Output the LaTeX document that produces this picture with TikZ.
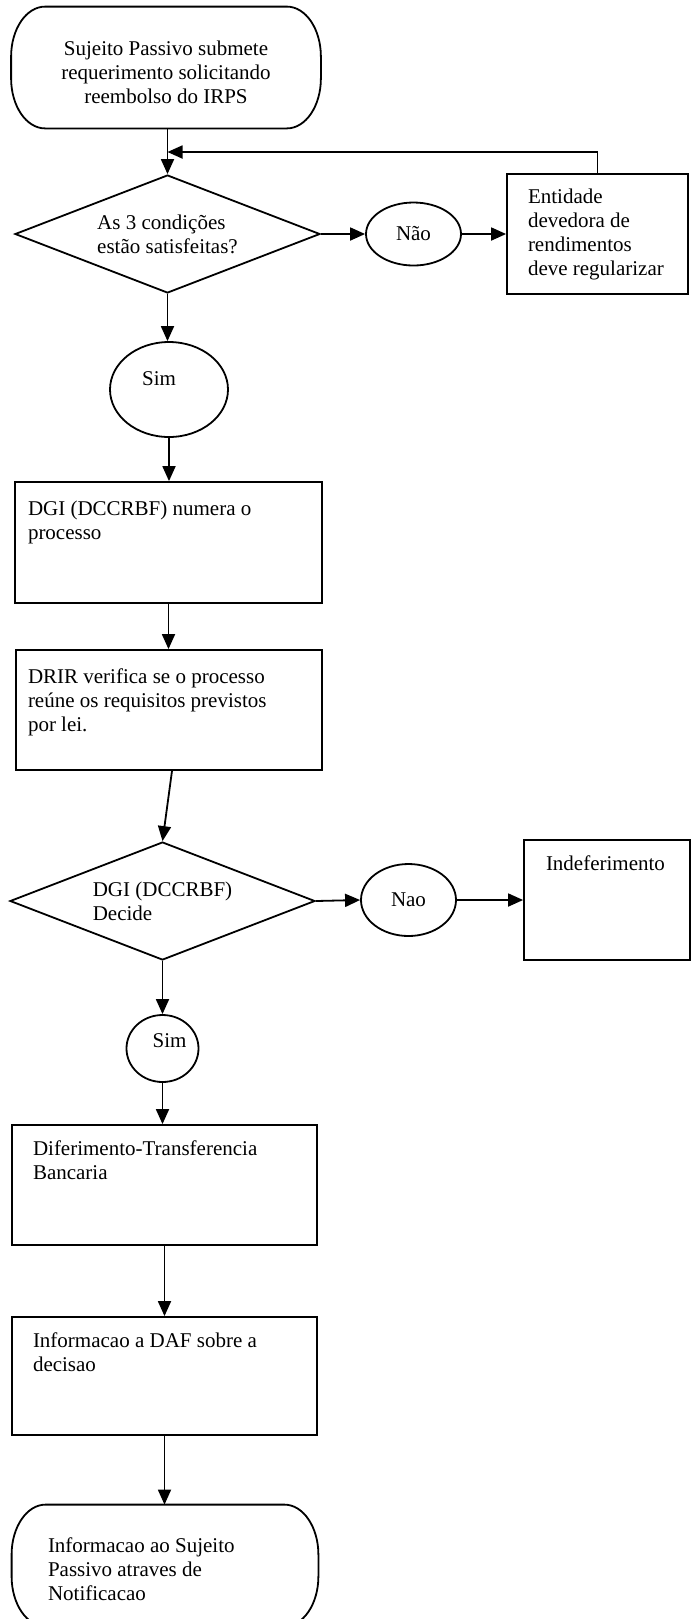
\documentclass[tikz,border=0pt]{standalone}
\usepackage{fontspec}
\setmainfont{Liberation Serif}
\usetikzlibrary{shapes.geometric,arrows.meta}
\newcommand{\bx}[5]{\parbox[c][#1][t]{#2}{\raggedright\leftskip=#4\relax\vspace*{#3}\strut#5}}
\newcommand{\cbx}[4]{\parbox[c][#1][t]{#2}{\centering\vspace*{#3}\strut#4}}
\tikzset{
  every node/.style={font=\fontsize{10.5}{12}\selectfont},
  boxnode/.style={draw, rectangle, inner sep=0pt, line width=0.9pt},
  decnode/.style={draw, diamond, aspect=2.58, inner sep=0pt, minimum width=152.5pt, minimum height=59pt, align=left, line width=0.9pt},
  ovalnode/.style={draw, ellipse, inner sep=0pt, line width=0.9pt},
  termnode/.style={draw=none, inner sep=0pt},
  outline/.style={line width=0.9pt},
  arr/.style={-{Triangle[length=7.5pt,width=6.5pt]}, line width=0.9pt},
}
\begin{document}
\begin{tikzpicture}[x=0.5pt,y=-0.5pt]
\fill[white] (0,0) rectangle (692,1619);
\useasboundingbox (0,0) rectangle (692,1619);

% nodes
\node[termnode] (t1) at (166,67.5) {\cbx{60.5pt}{154.5pt}{15.6pt}{Sujeito Passivo submete\\requerimento solicitando\\reembolso do IRPS}};
\node[decnode] (d1) at (167.5,234) {As 3 condições\\estão satisfeitas?};
\node[ovalnode, minimum width=47.5pt, minimum height=31.5pt] (nao1) at (413.5,234) {Não};
\node[boxnode] (ent) at (597.5,234) {\bx{60pt}{90.5pt}{6.1pt}{10.5pt}{Entidade\\devedora de\\rendimentos\\deve regularizar}};
\node[ovalnode, minimum width=59pt, minimum height=47.5pt, label={[xshift=-5pt,yshift=5.5pt]center:Sim}] (sim1) at (169,389.5) {};
\node[boxnode] (dgi) at (168.5,542.5) {\bx{60.5pt}{153.5pt}{8.1pt}{6.5pt}{DGI (DCCRBF) numera o\\processo}};
\node[boxnode] (drir) at (169,710) {\bx{60pt}{153pt}{8.1pt}{6pt}{DRIR verifica se o processo\\reúne os requisitos previstos\\por lei.}};
\node[decnode] (d2) at (162.5,901) {DGI (DCCRBF)\\Decide};
\node[ovalnode, minimum width=47.5pt, minimum height=36pt] (nao2) at (408.5,900) {Nao};
\node[boxnode] (indef) at (607,900) {\bx{60pt}{83pt}{6.6pt}{11pt}{Indeferimento}};
\node[ovalnode, minimum width=36pt, minimum height=33.5pt, label={[xshift=3.5pt,yshift=4pt]center:Sim}] (sim2) at (162.5,1048.5) {};
\node[boxnode] (dif) at (164.5,1185) {\bx{60pt}{152.5pt}{6.6pt}{10.5pt}{Diferimento-Transferencia\\Bancaria}};
\node[boxnode] (inf) at (164.5,1376) {\bx{59pt}{152.5pt}{6.6pt}{10.5pt}{Informacao a DAF sobre a\\decisao}};
\node[termnode] (t2) at (165,1565.5) {\bx{60.5pt}{153pt}{15.1pt}{18pt}{Informacao ao Sujeito\\Passivo atraves de\\Notificacao}};

% terminator outlines
\foreach \t in {t1,t2}{
\draw[outline] ([xshift=17pt]\t.north west) -- ([xshift=-17pt]\t.north east)
  arc[start angle=90, end angle=0, x radius=17pt, y radius=25pt]
  -- ([yshift=25pt]\t.south east)
  arc[start angle=0, end angle=-90, x radius=17pt, y radius=25pt]
  -- ([xshift=17pt]\t.south west)
  arc[start angle=270, end angle=180, x radius=17pt, y radius=25pt]
  -- ([yshift=-25pt]\t.north west)
  arc[start angle=180, end angle=90, x radius=17pt, y radius=25pt] -- cycle;
}

% connectors
\coordinate (fb) at (167.5,152);
\draw[arr] (d1.north |- t1.south) -- (d1.north);
\draw[arr] (ent.north) |- (fb);
\draw[arr] (d1.east) -- (nao1.west);
\draw[arr] (nao1.east) -- (ent.west);
\draw[arr] (d1.south) -- (d1.south |- sim1.north);
\draw[arr] (sim1.south) -- (sim1.south |- dgi.north);
\draw[arr] (dgi.south) -- (dgi.south |- drir.north);
\draw[arr] ([xshift=1.5pt]drir.south) -- (d2.north);
\draw[arr] (d2.east) -- (nao2.west);
\draw[arr] (nao2.east) -- (indef.west);
\draw[arr] (d2.south) -- (d2.south |- sim2.north);
\draw[arr] (sim2.south) -- (sim2.south |- dif.north);
\draw[arr] (dif.south) -- (dif.south |- inf.north);
\draw[arr] (inf.south) -- (inf.south |- t2.north);
\end{tikzpicture}
\end{document}
